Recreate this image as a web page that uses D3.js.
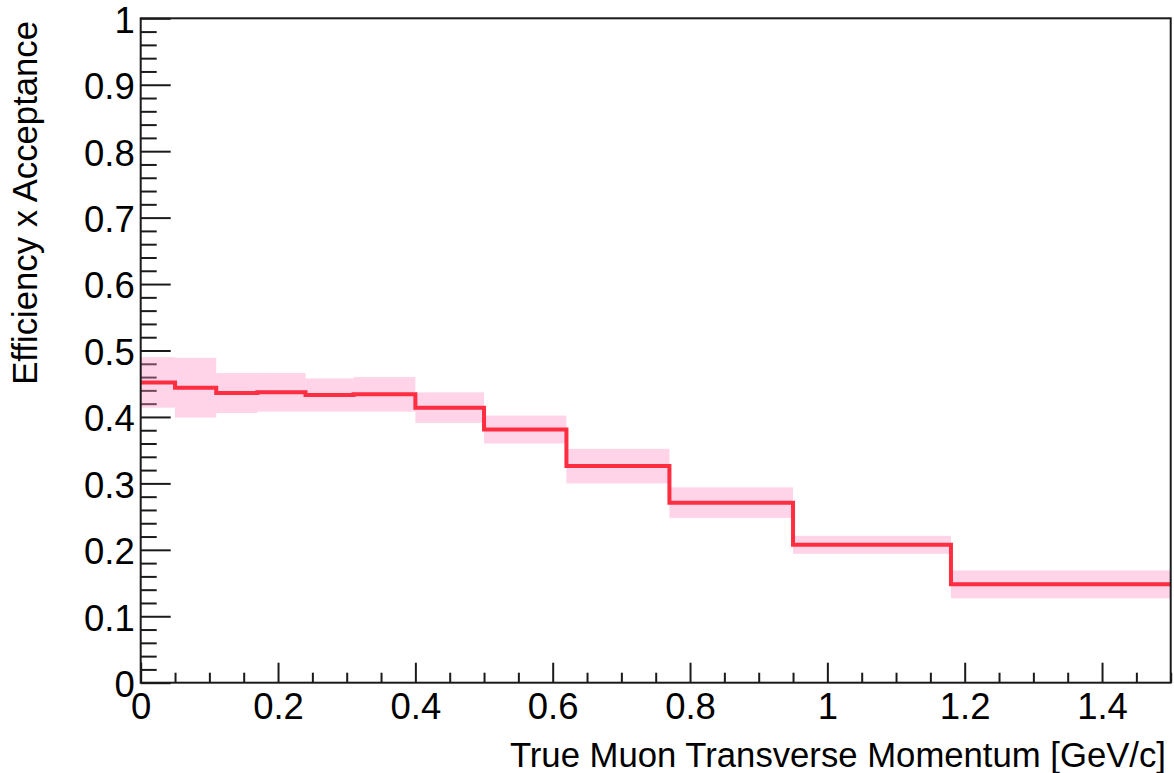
<!DOCTYPE html>
<html>
<head>
<meta charset="utf-8">
<script src="https://cdn.jsdelivr.net/npm/d3@7"></script>
<style>
  html, body { margin: 0; padding: 0; background: #fff; }
  svg { display: block; }
  text { font-family: "Liberation Sans", Arial, Helvetica, sans-serif; fill: #000; }
</style>
</head>
<body>
<svg id="chart" width="1174" height="773"></svg>
<script>
// Variable-width momentum bins (GeV/c)
const binEdges = [0, 0.05, 0.11, 0.17, 0.24, 0.31, 0.40, 0.50, 0.62, 0.77, 0.95, 1.18, 1.50];
// Efficiency x acceptance per bin
const effValues = [0.452, 0.444, 0.436, 0.437, 0.433, 0.434, 0.414, 0.381, 0.326, 0.271, 0.2075, 0.148];
// Symmetric uncertainty per bin
const effErrors = [0.038, 0.045, 0.030, 0.029, 0.025, 0.026, 0.023, 0.021, 0.026, 0.023, 0.0135, 0.021];

const xMajorTicks = [0, 0.2, 0.4, 0.6, 0.8, 1.0, 1.2, 1.4];
const xTickLabels = ["0", "0.2", "0.4", "0.6", "0.8", "1", "1.2", "1.4"];
const yMajorTicks = [0, 0.1, 0.2, 0.3, 0.4, 0.5, 0.6, 0.7, 0.8, 0.9, 1.0];
const yTickLabels = ["0", "0.1", "0.2", "0.3", "0.4", "0.5", "0.6", "0.7", "0.8", "0.9", "1"];

const xTitle = "True Muon Transverse Momentum [GeV/c]";
const yTitle = "Efficiency x Acceptance";

const svg = d3.select("#chart");
const frameL = 140.7, frameR = 1170.7, frameT = 18.3, frameB = 682.7;

const x = d3.scaleLinear().domain([0, 1.5]).range([frameL, frameR]);
const y = d3.scaleLinear().domain([0, 1]).range([frameB, frameT]);

const xMinor = d3.range(0, 1.5001, 0.05).filter(v => !xMajorTicks.some(m => Math.abs(m - v) < 1e-6));
const yMinor = d3.range(0, 1.0001, 0.02).filter(v => !yMajorTicks.some(m => Math.abs(m - v) < 1e-6));

const axisColor = "#1a1a1a";
const labelSize = 36.5;

// Minor ticks first so the band tints them
const gxMinor = svg.append("g").attr("transform", `translate(0,${frameB})`)
  .call(d3.axisBottom(x).tickValues(xMinor).tickSizeInner(-10).tickSizeOuter(0).tickFormat(""));
const gyMinor = svg.append("g").attr("transform", `translate(${frameL},0)`)
  .call(d3.axisLeft(y).tickValues(yMinor).tickSizeInner(-16).tickSizeOuter(0).tickFormat(""));

const gx = svg.append("g").attr("transform", `translate(0,${frameB})`)
  .call(d3.axisBottom(x).tickValues(xMajorTicks).tickSizeInner(-20).tickSizeOuter(0).tickPadding(10)
    .tickFormat((d, i) => xTickLabels[i]));
const gy = svg.append("g").attr("transform", `translate(${frameL},0)`)
  .call(d3.axisLeft(y).tickValues(yMajorTicks).tickSizeInner(-30).tickSizeOuter(0).tickPadding(6)
    .tickFormat((d, i) => yTickLabels[i]));

[gxMinor, gyMinor, gx, gy].forEach(g => {
  g.select(".domain").remove();
  g.selectAll(".tick line").attr("stroke", axisColor).attr("stroke-width", 2);
});
[gx, gy].forEach(g => {
  g.attr("font-family", null).attr("font-size", null);
  g.selectAll(".tick text").attr("font-size", labelSize).attr("fill", "#000");
});
gy.selectAll(".tick text").attr("dy", "0.38em");

// Uncertainty band
const bins = effValues.map((v, i) => ({ x0: binEdges[i], x1: binEdges[i + 1], v, e: effErrors[i] }));
svg.append("g").selectAll("rect").data(bins).join("rect")
  .attr("x", d => x(d.x0))
  .attr("width", d => x(d.x1) - x(d.x0))
  .attr("y", d => y(d.v + d.e))
  .attr("height", d => y(d.v - d.e) - y(d.v + d.e))
  .attr("fill", "rgb(255,140,195)")
  .attr("fill-opacity", 0.38);

// Central histogram line
const stepPts = bins.map(d => [d.x0, d.v]).concat([[binEdges[binEdges.length - 1], effValues[effValues.length - 1]]]);
svg.append("path")
  .datum(stepPts)
  .attr("fill", "none")
  .attr("stroke", "#ff2d40")
  .attr("stroke-width", 4)
  .attr("stroke-linejoin", "miter")
  .attr("d", d3.line().x(d => x(d[0])).y(d => y(d[1])).curve(d3.curveStepAfter));

// Frame
svg.append("rect")
  .attr("x", frameL).attr("y", frameT)
  .attr("width", frameR - frameL).attr("height", frameB - frameT)
  .attr("fill", "none").attr("stroke", axisColor).attr("stroke-width", 2);

// Axis titles
svg.append("text")
  .attr("x", 1166).attr("y", 767)
  .attr("text-anchor", "end")
  .attr("font-size", 34.7)
  .text(xTitle);

svg.append("text")
  .attr("transform", "translate(37,21) rotate(-90)")
  .attr("text-anchor", "end")
  .attr("font-size", 34.7)
  .text(yTitle);
</script>
</body>
</html>
